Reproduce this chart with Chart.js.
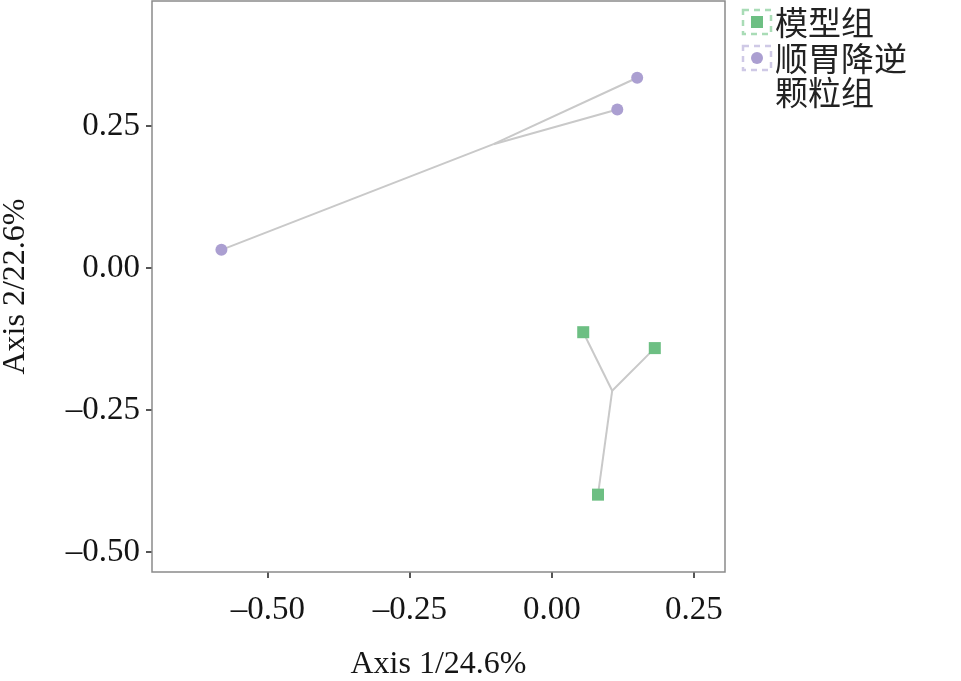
<!DOCTYPE html>
<html>
<head>
<meta charset="utf-8">
<script src="https://cdn.jsdelivr.net/npm/chart.js@4.4.1/dist/chart.umd.min.js"></script>
<style>
  html, body { margin: 0; padding: 0; background: #fff; }
  #wrap { width: 961px; height: 681px; }
</style>
</head>
<body>
<div id="wrap"><canvas id="chart"></canvas></div>
<script>
// group names (second one is wrapped over two lines in the legend)
const groupNames = ['模型组', '顺胃降逆颗粒组'];
const legendLines = [['模型组'], ['顺胃降逆', '颗粒组']];

// sample coordinates
const modelX = [0.055, 0.181, 0.081];
const modelY = [-0.113, -0.141, -0.399];
const shunweiX = [0.150, 0.115, -0.582];
const shunweiY = [0.335, 0.279, 0.032];

// group centroids (where the spider lines meet)
const modelCentroid = [0.106, -0.216];
const shunweiCentroid = [-0.103, 0.218];

const xTicks = [-0.5, -0.25, 0, 0.25];
const yTicks = [-0.5, -0.25, 0, 0.25];

const greenColor = '#6dbf83';
const purpleColor = '#ab9fd1';
const spiderColor = '#c9c9c9';

function spiderSets(xs, ys, centroid) {
  return xs.map((x, i) => ({
    type: 'line',
    data: [{ x: centroid[0], y: centroid[1] }, { x: x, y: ys[i] }],
    borderColor: spiderColor,
    borderWidth: 2,
    pointRadius: 0,
    showLine: true,
    fill: false,
    order: 2
  }));
}

function toPoints(xs, ys) {
  return xs.map((x, i) => ({ x: x, y: ys[i] }));
}

const datasets = [
  ...spiderSets(modelX, modelY, modelCentroid),
  ...spiderSets(shunweiX, shunweiY, shunweiCentroid),
  {
    label: groupNames[0],
    data: toPoints(modelX, modelY),
    pointStyle: 'rect',
    pointRadius: 8.5,
    backgroundColor: greenColor,
    borderColor: greenColor,
    borderWidth: 0,
    order: 1,
    isGroup: true
  },
  {
    label: groupNames[1],
    data: toPoints(shunweiX, shunweiY),
    pointStyle: 'circle',
    pointRadius: 6,
    backgroundColor: purpleColor,
    borderColor: purpleColor,
    borderWidth: 0,
    order: 1,
    isGroup: true
  }
];

function fmt(v) {
  const s = Math.abs(v).toFixed(2);
  return v < 0 ? '\u2013' + s : s;
}

// plot frame around the chart area
const framePlugin = {
  id: 'frame',
  afterDraw(chart) {
    const { ctx, chartArea: a } = chart;
    ctx.save();
    ctx.strokeStyle = '#8a8a8a';
    ctx.lineWidth = 1.5;
    ctx.strokeRect(a.left, a.top, a.right - a.left, a.bottom - a.top);
    ctx.restore();
  }
};

// legend on the right with dashed key boxes
const legendPlugin = {
  id: 'sideLegend',
  afterDraw(chart) {
    const ctx = chart.ctx;
    const groups = chart.data.datasets.filter(d => d.isGroup);
    const keyX = 743, keyW = 28, keyH = 24;
    const tops = [10, 46];
    const lightBox = ['#a9dcb6', '#cfc9e6'];
    ctx.save();
    groups.forEach((ds, i) => {
      const top = tops[i];
      ctx.setLineDash([6, 5]);
      ctx.strokeStyle = lightBox[i];
      ctx.lineWidth = 2.5;
      ctx.strokeRect(keyX, top, keyW, keyH);
      ctx.setLineDash([]);
      ctx.fillStyle = ds.backgroundColor;
      const cx = keyX + keyW / 2, cy = top + keyH / 2;
      if (ds.pointStyle === 'rect') {
        ctx.fillRect(cx - 6, cy - 6, 12, 12);
      } else {
        ctx.beginPath();
        ctx.arc(cx, cy, 6, 0, Math.PI * 2);
        ctx.fill();
      }
      ctx.fillStyle = '#222';
      ctx.font = '33px "Noto Sans CJK SC"';
      ctx.textBaseline = 'middle';
      ctx.textAlign = 'left';
      legendLines[i].forEach((line, j) => {
        ctx.fillText(line, 775, cy + j * 34);
      });
    });
    ctx.restore();
  }
};

const tickFont = { family: '"Liberation Serif", "DejaVu Serif", serif', size: 33 };
const titleFont = { family: '"Liberation Serif", "DejaVu Serif", serif', size: 32, lineHeight: 1 };

new Chart(document.getElementById('chart'), {
  type: 'scatter',
  data: { datasets: datasets },
  options: {
    responsive: true,
    maintainAspectRatio: false,
    animation: false,
    layout: { autoPadding: false, padding: { top: 1, right: 236, left: 0, bottom: 0 } },
    plugins: {
      legend: { display: false },
      tooltip: { enabled: false }
    },
    scales: {
      x: {
        type: 'linear',
        min: -0.7042,
        max: 0.3046,
        afterBuildTicks: s => { s.ticks = xTicks.map(v => ({ value: v })); },
        afterFit: s => { s.height = 109; s.paddingLeft = 0; s.paddingRight = 0; },
        grid: { drawOnChartArea: false, drawTicks: true, tickLength: 6, color: '#555', lineWidth: 2 },
        border: { display: false },
        ticks: { callback: v => fmt(v), font: tickFont, color: '#151515', padding: 13, maxRotation: 0 },
        title: {
          display: true,
          text: 'Axis 1/24.6%',
          font: titleFont,
          color: '#151515',
          padding: { top: 17, bottom: 0 }
        }
      },
      y: {
        type: 'linear',
        min: -0.5352,
        max: 0.4701,
        afterBuildTicks: s => { s.ticks = yTicks.map(v => ({ value: v })); },
        afterFit: s => { s.width = 152; s.paddingTop = 0; s.paddingBottom = 0; },
        grid: { drawOnChartArea: false, drawTicks: true, tickLength: 6, color: '#555', lineWidth: 2 },
        border: { display: false },
        ticks: { callback: v => fmt(v), font: tickFont, color: '#151515', padding: 6 },
        title: {
          display: true,
          text: 'Axis 2/22.6%',
          font: titleFont,
          color: '#151515',
          padding: { top: 0, bottom: 0 }
        }
      }
    }
  },
  plugins: [framePlugin, legendPlugin]
});
</script>
</body>
</html>
